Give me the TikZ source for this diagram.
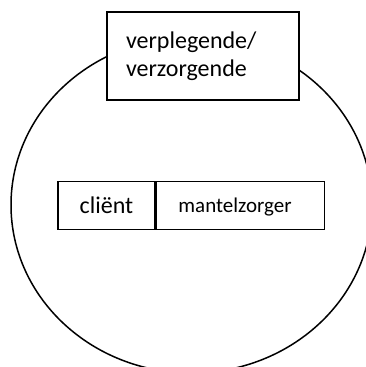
\documentclass[tikz,border=0pt]{standalone}
\usepackage{fontspec}
\setmainfont{Carlito}
\usetikzlibrary{positioning}

\tikzset{
  vakje/.style={draw=black, line width=1.5pt, fill=white, inner sep=0pt, minimum height=48pt},
}

\begin{document}
\begin{tikzpicture}[x=1pt,y=1pt]

%% - Fix page size
%% - --------------------------------------

\useasboundingbox (0,0) rectangle (366,367);
\clip (0,0) rectangle (366,367);

%% - Draw circle
%% - --------------------------------------

\draw[black, line width=1.5pt] (191.5,162) ellipse [x radius=180.5, y radius=168];

%% - Draw boxes
%% - --------------------------------------

%% - verplegende / verzorgende
\node[vakje, minimum width=192pt, minimum height=88pt, text width=154pt, inner xsep=19pt, align=left, font=\fontsize{24}{28}\selectfont] (zorg) at (203,311) {verplegende/\\verzorgende};

%% - client en mantelzorger
\node[vakje, minimum width=97pt, font=\fontsize{24}{28}\selectfont] (client) at (106.5,161.5) {cliënt};
\node[vakje, minimum width=168pt, text depth=0pt, right=0pt of client, font=\fontsize{21}{24}\selectfont] (mantel) {mantelzorger\hspace*{11pt}};

\end{tikzpicture}
\end{document}
